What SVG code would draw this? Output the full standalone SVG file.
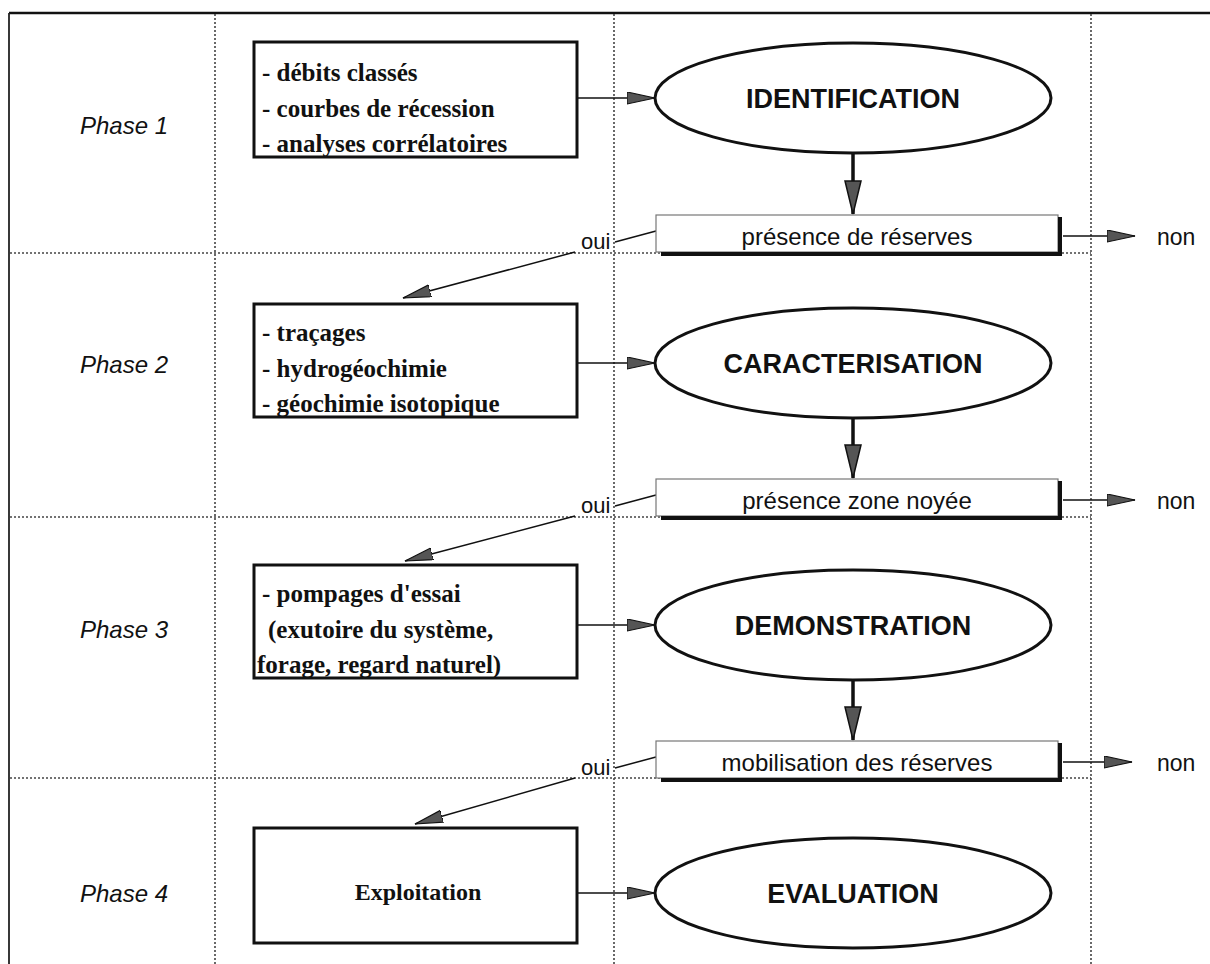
<svg xmlns="http://www.w3.org/2000/svg" width="1210" height="964" viewBox="0 0 1210 964">
<defs>
<style>
.grid{stroke:#444;stroke-width:1.6;stroke-dasharray:2 2;fill:none}
.box{fill:#fff;stroke:#111;stroke-width:3}
.ell{fill:#fff;stroke:#111;stroke-width:3}
.dec{fill:#fff;stroke:#777;stroke-width:1.2}
.shadow{fill:none;stroke:#111;stroke-width:4}
.phase{font-family:"Liberation Sans",Arial,sans-serif;font-style:italic;font-size:24px;fill:#111}
.list{font-family:"Liberation Serif","Times New Roman",serif;font-weight:bold;font-size:25px;fill:#111}
.etitle{font-family:"Liberation Sans",Arial,sans-serif;font-weight:bold;font-size:27px;fill:#111;text-anchor:middle}
.dtext{font-family:"Liberation Sans",Arial,sans-serif;font-size:24px;fill:#111;text-anchor:middle}
.small{font-family:"Liberation Sans",Arial,sans-serif;font-size:22px;fill:#111}
.thin{stroke:#111;stroke-width:1.5;fill:none}
.thick{stroke:#111;stroke-width:3.5;fill:none}
</style>
<marker id="ah" markerUnits="userSpaceOnUse" markerWidth="30" markerHeight="14" refX="28" refY="6.5" orient="auto">
<path d="M0,0.5 L28,6.5 L0,12.5 Z" fill="#555" stroke="#111" stroke-width="1.2"/>
</marker>
<marker id="ahv" markerUnits="userSpaceOnUse" markerWidth="20" markerHeight="36" refX="9" refY="34" orient="0">
<path d="M1,1 L17,1 L9,34 Z" fill="#555" stroke="#111" stroke-width="1.5"/>
</marker>
</defs>

<g id="frame">
<line x1="9" y1="13" x2="1210" y2="13" stroke="#111" stroke-width="2.5"/>
<line x1="9" y1="13" x2="9" y2="964" stroke="#222" stroke-width="1.8"/>
<line class="grid" x1="215" y1="14" x2="215" y2="964"/>
<line class="grid" x1="614" y1="14" x2="614" y2="964"/>
<line class="grid" x1="1091" y1="14" x2="1091" y2="964"/>
<line class="grid" x1="10" y1="253" x2="1091" y2="253"/>
<line class="grid" x1="10" y1="517" x2="1091" y2="517"/>
<line class="grid" x1="10" y1="778" x2="1091" y2="778"/>
</g>

<g id="labels">
<text class="phase" x="80" y="134">Phase 1</text>
<text class="phase" x="80" y="373">Phase 2</text>
<text class="phase" x="80" y="638">Phase 3</text>
<text class="phase" x="80" y="902">Phase 4</text>
</g>

<g id="connectors">
<line class="thin" x1="577" y1="98" x2="655" y2="98" marker-end="url(#ah)"/>
<line class="thin" x1="577" y1="363" x2="655" y2="363" marker-end="url(#ah)"/>
<line class="thin" x1="577" y1="625" x2="655" y2="625" marker-end="url(#ah)"/>
<line class="thin" x1="577" y1="893" x2="655" y2="893" marker-end="url(#ah)"/>

<line class="thick" x1="853" y1="153" x2="853" y2="214" marker-end="url(#ahv)"/>
<line class="thick" x1="853" y1="418" x2="853" y2="478" marker-end="url(#ahv)"/>
<line class="thick" x1="853" y1="681" x2="853" y2="740" marker-end="url(#ahv)"/>

<line class="thin" x1="656" y1="231" x2="615" y2="242"/>
<line class="thin" x1="575" y1="252" x2="403" y2="298" marker-end="url(#ah)"/>
<line class="thin" x1="656" y1="495" x2="615" y2="506"/>
<line class="thin" x1="575" y1="516" x2="405" y2="561" marker-end="url(#ah)"/>
<line class="thin" x1="656" y1="757" x2="615" y2="768"/>
<line class="thin" x1="575" y1="778" x2="415" y2="824" marker-end="url(#ah)"/>

<line class="thin" x1="1063" y1="236" x2="1135" y2="236" marker-end="url(#ah)"/>
<line class="thin" x1="1063" y1="500" x2="1135" y2="500" marker-end="url(#ah)"/>
<line class="thin" x1="1063" y1="762" x2="1132" y2="762" marker-end="url(#ah)"/>
</g>

<g id="box1">
<rect class="box" x="254" y="42" width="323" height="115"/>
<text class="list" x="262" y="81">- débits classés</text>
<text class="list" x="262" y="117">- courbes de récession</text>
<text class="list" x="262" y="152">- analyses corrélatoires</text>
</g>
<g id="box2">
<rect class="box" x="254" y="304" width="323" height="113"/>
<text class="list" x="262" y="341">- traçages</text>
<text class="list" x="262" y="377">- hydrogéochimie</text>
<text class="list" x="262" y="412">- géochimie isotopique</text>
</g>
<g id="box3">
<rect class="box" x="254" y="565" width="323" height="113"/>
<text class="list" x="262" y="602">- pompages d'essai</text>
<text class="list" x="268" y="638">(exutoire du système,</text>
<text class="list" x="257" y="673">forage, regard naturel)</text>
</g>
<g id="box4">
<rect class="box" x="254" y="828" width="323" height="115"/>
<text class="list" x="418" y="900" text-anchor="middle" style="font-size:24px">Exploitation</text>
</g>

<g id="identification">
<ellipse class="ell" cx="853" cy="98" rx="198" ry="55"/>
<text class="etitle" x="853" y="108">IDENTIFICATION</text>
</g>
<g id="caracterisation">
<ellipse class="ell" cx="853" cy="363" rx="198" ry="55"/>
<text class="etitle" x="853" y="373">CARACTERISATION</text>
</g>
<g id="demonstration">
<ellipse class="ell" cx="853" cy="625" rx="198" ry="55"/>
<text class="etitle" x="853" y="635">DEMONSTRATION</text>
</g>
<g id="evaluation">
<ellipse class="ell" cx="853" cy="893" rx="198" ry="55"/>
<text class="etitle" x="853" y="903">EVALUATION</text>
</g>

<g id="decision1">
<rect class="dec" x="656" y="215" width="402" height="37"/>
<polyline class="shadow" points="661,254 1060,254 1060,217"/>
<text class="dtext" x="857" y="245">présence de réserves</text>
</g>
<g id="decision2">
<rect class="dec" x="656" y="479" width="402" height="37"/>
<polyline class="shadow" points="661,518 1060,518 1060,481"/>
<text class="dtext" x="857" y="509">présence zone noyée</text>
</g>
<g id="decision3">
<rect class="dec" x="656" y="741" width="402" height="37"/>
<polyline class="shadow" points="661,780 1060,780 1060,743"/>
<text class="dtext" x="857" y="771">mobilisation des réserves</text>
</g>

<g id="oui-non">
<text class="small" x="581" y="249">oui</text>
<text class="small" x="581" y="513">oui</text>
<text class="small" x="581" y="775">oui</text>
<text class="small" x="1157" y="245" style="font-size:23px">non</text>
<text class="small" x="1157" y="509" style="font-size:23px">non</text>
<text class="small" x="1157" y="771" style="font-size:23px">non</text>
</g>
</svg>
